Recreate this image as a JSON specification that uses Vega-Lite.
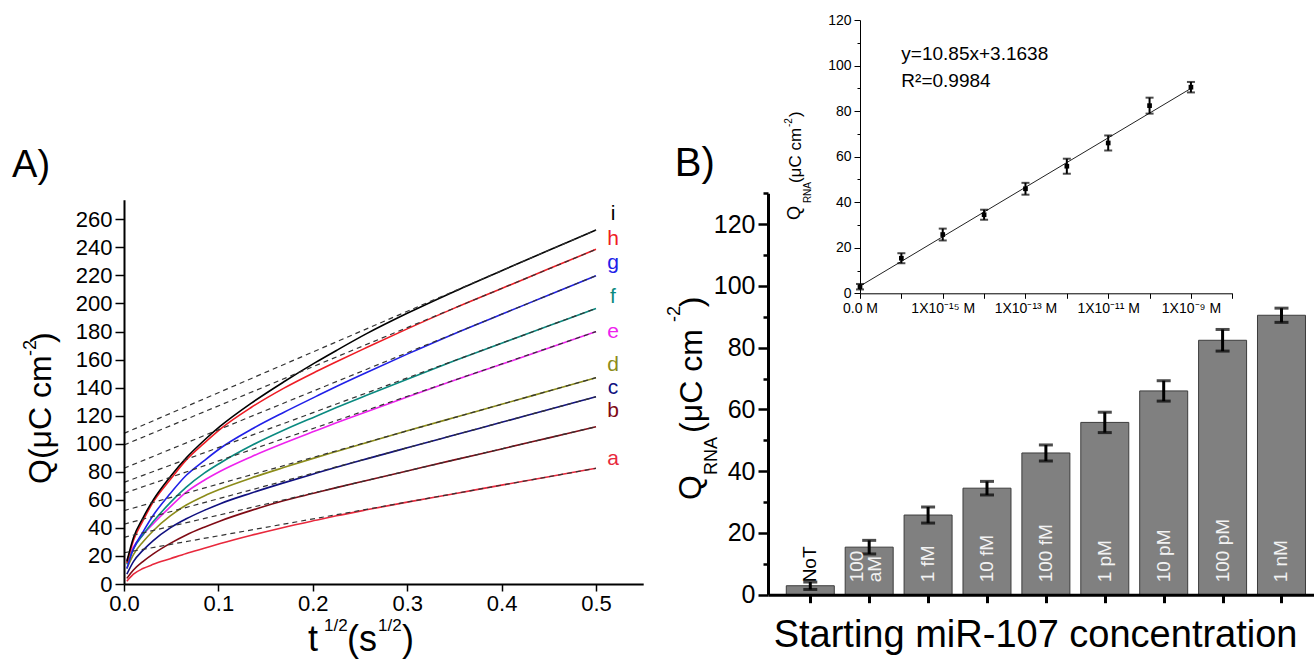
{
  "$schema": "https://vega.github.io/schema/vega-lite/v6.json",
  "width": 1314,
  "height": 671,
  "autosize": {"type": "none"},
  "padding": 0,
  "background": "white",
  "config": {
    "view": {"stroke": null},
    "font": "Liberation Sans",
    "axis": {"labelFont": "Liberation Sans", "labelColor": "black", "domainColor": "black", "tickColor": "black", "grid": false, "labelOverlap": false, "labelFlush": false},
    "text": {"font": "Liberation Sans", "color": "black"}
  },
  "datasets": {
    "curves": [
      {"series":"a","t":0.003,"q":2},{"series":"a","t":0.01,"q":7},{"series":"a","t":0.02,"q":11},{"series":"a","t":0.031,"q":14},{"series":"a","t":0.049,"q":18},{"series":"a","t":0.066,"q":21.8},{"series":"a","t":0.085,"q":25.5},{"series":"a","t":0.102,"q":28.8},{"series":"a","t":0.135,"q":34.7},{"series":"a","t":0.169,"q":40.3},{"series":"a","t":0.203,"q":45.4},{"series":"a","t":0.225,"q":48.6},{"series":"a","t":0.257,"q":52.9},{"series":"a","t":0.3,"q":58.4},{"series":"a","t":0.35,"q":64.4},{"series":"a","t":0.4,"q":70.5},{"series":"a","t":0.45,"q":76.5},{"series":"a","t":0.5,"q":82.5},
      {"series":"b","t":0.003,"q":4},{"series":"b","t":0.01,"q":10},{"series":"b","t":0.02,"q":16},{"series":"b","t":0.031,"q":21.5},{"series":"b","t":0.049,"q":29},{"series":"b","t":0.066,"q":35},{"series":"b","t":0.085,"q":40.5},{"series":"b","t":0.102,"q":45},{"series":"b","t":0.135,"q":52.5},{"series":"b","t":0.169,"q":59.3},{"series":"b","t":0.203,"q":65},{"series":"b","t":0.225,"q":68.7},{"series":"b","t":0.257,"q":73.8},{"series":"b","t":0.3,"q":80.6},{"series":"b","t":0.35,"q":88.5},{"series":"b","t":0.4,"q":96.3},{"series":"b","t":0.45,"q":104.2},{"series":"b","t":0.5,"q":112.1},
      {"series":"c","t":0.003,"q":7},{"series":"c","t":0.01,"q":16},{"series":"c","t":0.02,"q":24},{"series":"c","t":0.031,"q":31},{"series":"c","t":0.049,"q":40},{"series":"c","t":0.066,"q":46.5},{"series":"c","t":0.085,"q":52.5},{"series":"c","t":0.102,"q":57.3},{"series":"c","t":0.135,"q":64.9},{"series":"c","t":0.169,"q":72.1},{"series":"c","t":0.203,"q":78.9},{"series":"c","t":0.225,"q":83.2},{"series":"c","t":0.257,"q":89.2},{"series":"c","t":0.3,"q":97.1},{"series":"c","t":0.35,"q":106.2},{"series":"c","t":0.4,"q":115.3},{"series":"c","t":0.45,"q":124.4},{"series":"c","t":0.5,"q":133.5},
      {"series":"d","t":0.003,"q":11},{"series":"d","t":0.01,"q":21},{"series":"d","t":0.02,"q":30},{"series":"d","t":0.031,"q":38},{"series":"d","t":0.049,"q":48.5},{"series":"d","t":0.066,"q":56.3},{"series":"d","t":0.085,"q":62.8},{"series":"d","t":0.102,"q":67.6},{"series":"d","t":0.135,"q":75.6},{"series":"d","t":0.169,"q":83.0},{"series":"d","t":0.203,"q":90.1},{"series":"d","t":0.225,"q":94.5},{"series":"d","t":0.257,"q":100.8},{"series":"d","t":0.3,"q":109.2},{"series":"d","t":0.35,"q":118.7},{"series":"d","t":0.4,"q":128.1},{"series":"d","t":0.45,"q":137.6},{"series":"d","t":0.5,"q":147.1},
      {"series":"e","t":0.003,"q":17},{"series":"e","t":0.01,"q":26.5},{"series":"e","t":0.02,"q":35},{"series":"e","t":0.031,"q":43},{"series":"e","t":0.049,"q":55},{"series":"e","t":0.066,"q":65.5},{"series":"e","t":0.085,"q":74.0},{"series":"e","t":0.102,"q":80.4},{"series":"e","t":0.135,"q":90.8},{"series":"e","t":0.169,"q":100.3},{"series":"e","t":0.203,"q":109.2},{"series":"e","t":0.225,"q":114.9},{"series":"e","t":0.257,"q":122.8},{"series":"e","t":0.3,"q":133.3},{"series":"e","t":0.35,"q":145.2},{"series":"e","t":0.4,"q":156.7},{"series":"e","t":0.45,"q":168.2},{"series":"e","t":0.5,"q":179.9},
      {"series":"f","t":0.003,"q":14},{"series":"f","t":0.01,"q":25},{"series":"f","t":0.02,"q":35},{"series":"f","t":0.031,"q":44.5},{"series":"f","t":0.049,"q":58},{"series":"f","t":0.066,"q":69},{"series":"f","t":0.085,"q":79},{"series":"f","t":0.102,"q":86.3},{"series":"f","t":0.135,"q":98.7},{"series":"f","t":0.169,"q":109.6},{"series":"f","t":0.203,"q":119.5},{"series":"f","t":0.225,"q":125.8},{"series":"f","t":0.257,"q":134.5},{"series":"f","t":0.3,"q":146.0},{"series":"f","t":0.35,"q":159.1},{"series":"f","t":0.4,"q":171.7},{"series":"f","t":0.45,"q":184.1},{"series":"f","t":0.5,"q":196.5},
      {"series":"g","t":0.003,"q":11},{"series":"g","t":0.01,"q":25},{"series":"g","t":0.02,"q":37},{"series":"g","t":0.031,"q":49},{"series":"g","t":0.049,"q":64.5},{"series":"g","t":0.066,"q":77.5},{"series":"g","t":0.085,"q":88},{"series":"g","t":0.102,"q":96.8},{"series":"g","t":0.135,"q":110.3},{"series":"g","t":0.169,"q":122.3},{"series":"g","t":0.203,"q":133.6},{"series":"g","t":0.225,"q":140.8},{"series":"g","t":0.257,"q":150.8},{"series":"g","t":0.3,"q":163.9},{"series":"g","t":0.35,"q":178.5},{"series":"g","t":0.4,"q":192.3},{"series":"g","t":0.45,"q":206.1},{"series":"g","t":0.5,"q":219.8},
      {"series":"h","t":0.003,"q":15},{"series":"h","t":0.01,"q":31},{"series":"h","t":0.02,"q":45},{"series":"h","t":0.031,"q":58.5},{"series":"h","t":0.049,"q":74.5},{"series":"h","t":0.066,"q":88.5},{"series":"h","t":0.085,"q":100.5},{"series":"h","t":0.102,"q":110.5},{"series":"h","t":0.135,"q":126},{"series":"h","t":0.169,"q":139.5},{"series":"h","t":0.203,"q":151.3},{"series":"h","t":0.225,"q":158.5},{"series":"h","t":0.257,"q":168.6},{"series":"h","t":0.3,"q":181.9},{"series":"h","t":0.35,"q":196.7},{"series":"h","t":0.4,"q":210.7},{"series":"h","t":0.45,"q":224.7},{"series":"h","t":0.5,"q":238.6},
      {"series":"i","t":0.003,"q":16},{"series":"i","t":0.01,"q":33},{"series":"i","t":0.02,"q":47},{"series":"i","t":0.031,"q":60},{"series":"i","t":0.049,"q":76.5},{"series":"i","t":0.066,"q":90},{"series":"i","t":0.085,"q":102.5},{"series":"i","t":0.102,"q":112.5},{"series":"i","t":0.135,"q":129},{"series":"i","t":0.169,"q":144},{"series":"i","t":0.203,"q":158},{"series":"i","t":0.225,"q":166.5},{"series":"i","t":0.257,"q":178.5},{"series":"i","t":0.3,"q":193},{"series":"i","t":0.35,"q":208.6},{"series":"i","t":0.4,"q":223.4},{"series":"i","t":0.45,"q":237.9},{"series":"i","t":0.5,"q":252.4}
    ],
    "fits": [
      {"series":"a","t":0,"q":22.3},{"series":"a","t":0.5,"q":82.5},
      {"series":"b","t":0,"q":33.3},{"series":"b","t":0.5,"q":112.1},
      {"series":"c","t":0,"q":42.6},{"series":"c","t":0.5,"q":133.5},
      {"series":"d","t":0,"q":52.3},{"series":"d","t":0.5,"q":147.1},
      {"series":"e","t":0,"q":64.7},{"series":"e","t":0.5,"q":179.9},
      {"series":"f","t":0,"q":72.5},{"series":"f","t":0.5,"q":196.5},
      {"series":"g","t":0,"q":82.5},{"series":"g","t":0.5,"q":219.8},
      {"series":"h","t":0,"q":99.1},{"series":"h","t":0.5,"q":238.6},
      {"series":"i","t":0,"q":107.4},{"series":"i","t":0.5,"q":252.4}
    ],
    "curvelabels": [
      {"series":"a","t":0.518,"q":84.8},
      {"series":"b","t":0.518,"q":119.1},
      {"series":"c","t":0.518,"q":135.8},
      {"series":"d","t":0.518,"q":151.6},
      {"series":"e","t":0.518,"q":175.4},
      {"series":"f","t":0.518,"q":200.3},
      {"series":"g","t":0.518,"q":224.6},
      {"series":"h","t":0.518,"q":241.7},
      {"series":"i","t":0.518,"q":259.5}
    ],
    "conc": [
      {"idx":0,"label":"NoT","q":2.9,"err":1.2},
      {"idx":1,"label":"100\naM","q":15.4,"err":2.2},
      {"idx":2,"label":"1 fM","q":25.8,"err":2.6},
      {"idx":3,"label":"10 fM","q":34.5,"err":2.2},
      {"idx":4,"label":"100 fM","q":45.9,"err":2.6},
      {"idx":5,"label":"1 pM","q":55.8,"err":3.3},
      {"idx":6,"label":"10 pM","q":66.0,"err":3.3},
      {"idx":7,"label":"100 pM","q":82.4,"err":3.5},
      {"idx":8,"label":"1 nM","q":90.5,"err":2.3}
    ],
    "regline": [{"idx":0,"q":3.16},{"idx":8,"q":89.96}]
  },
  "layer": [
    {
      "layer": [
        {
          "data": {"name": "curves"},
          "mark": {"type": "line", "strokeWidth": 1.6, "interpolate": "monotone"},
          "encoding": {
            "x": {"field": "t", "type": "quantitative", "scale": {"domain": [0, 0.55], "range": [124, 643.2], "nice": false, "zero": false},
                  "axis": {"orient": "bottom", "offset": -87, "values": [0, 0.1, 0.2, 0.3, 0.4, 0.5], "format": ".1f", "tickSize": 7, "tickWidth": 1.5, "domainWidth": 2, "labelPadding": 2, "labelFontSize": 22, "title": null, "zindex": 1}},
            "y": {"field": "q", "type": "quantitative", "scale": {"domain": [0, 274], "range": [584, 199.7], "nice": false, "zero": false},
                  "axis": {"orient": "left", "offset": -124, "values": [0,10,20,30,40,50,60,70,80,90,100,110,120,130,140,150,160,170,180,190,200,210,220,230,240,250,260,270], "labelExpr": "datum.value % 20 === 0 ? datum.label : ''", "tickSize": {"condition": {"test": "datum.value % 20 === 0", "value": 9}, "value": 5}, "tickWidth": 1.5, "domainWidth": 2, "labelPadding": 3, "labelFontSize": 22, "title": null, "zindex": 1}},
            "color": {"field": "series", "type": "nominal", "scale": {"domain": ["a","b","c","d","e","f","g","h","i"], "range": ["#e8283c","#7f0a14","#101080","#8c8c1a","#ee22ee","#0a8a80","#2020e8","#ee1c24","#000000"]}, "legend": null}
          }
        },
        {
          "data": {"name": "fits"},
          "mark": {"type": "line", "strokeDash": [5, 4], "strokeWidth": 1.2, "color": "#333333"},
          "encoding": {
            "x": {"field": "t", "type": "quantitative"},
            "y": {"field": "q", "type": "quantitative"},
            "detail": {"field": "series"}
          }
        },
        {
          "data": {"name": "curvelabels"},
          "mark": {"type": "text", "fontSize": 21, "align": "center", "baseline": "alphabetic"},
          "encoding": {
            "x": {"field": "t", "type": "quantitative"},
            "y": {"field": "q", "type": "quantitative"},
            "text": {"field": "series"},
            "color": {"field": "series", "type": "nominal", "legend": null}
          }
        },
        {"data": {"values": [{}]}, "mark": {"type": "text", "text": "A)", "fontSize": 38, "align": "left", "baseline": "alphabetic"}, "encoding": {"x": {"datum": -0.1186, "type": "quantitative"}, "y": {"datum": 290.2, "type": "quantitative"}}},
        {"data": {"values": [{}]}, "mark": {"type": "text", "text": "Q(μC cm", "fontSize": 32, "angle": 270, "align": "left", "baseline": "middle"}, "encoding": {"x": {"datum": -0.0879, "type": "quantitative"}, "y": {"datum": 71.3, "type": "quantitative"}}},
        {"data": {"values": [{}]}, "mark": {"type": "text", "text": "-2", "fontSize": 18, "angle": 270, "align": "left", "baseline": "middle"}, "encoding": {"x": {"datum": -0.0985, "type": "quantitative"}, "y": {"datum": 162.5, "type": "quantitative"}}},
        {"data": {"values": [{}]}, "mark": {"type": "text", "text": ")", "fontSize": 32, "angle": 270, "align": "left", "baseline": "middle"}, "encoding": {"x": {"datum": -0.0858, "type": "quantitative"}, "y": {"datum": 171.8, "type": "quantitative"}}},
        {"data": {"values": [{}]}, "mark": {"type": "text", "text": "t", "fontSize": 36, "align": "left", "baseline": "alphabetic"}, "encoding": {"x": {"datum": 0.1949, "type": "quantitative"}, "y": {"datum": -47.8, "type": "quantitative"}}},
        {"data": {"values": [{}]}, "mark": {"type": "text", "text": "1/2", "fontSize": 17, "align": "left", "baseline": "alphabetic"}, "encoding": {"x": {"datum": 0.2119, "type": "quantitative"}, "y": {"datum": -33.5, "type": "quantitative"}}},
        {"data": {"values": [{}]}, "mark": {"type": "text", "text": "(s", "fontSize": 36, "align": "left", "baseline": "alphabetic"}, "encoding": {"x": {"datum": 0.2362, "type": "quantitative"}, "y": {"datum": -47.8, "type": "quantitative"}}},
        {"data": {"values": [{}]}, "mark": {"type": "text", "text": "1/2", "fontSize": 17, "align": "left", "baseline": "alphabetic"}, "encoding": {"x": {"datum": 0.2691, "type": "quantitative"}, "y": {"datum": -33.5, "type": "quantitative"}}},
        {"data": {"values": [{}]}, "mark": {"type": "text", "text": ")", "fontSize": 36, "align": "left", "baseline": "alphabetic"}, "encoding": {"x": {"datum": 0.2945, "type": "quantitative"}, "y": {"datum": -47.8, "type": "quantitative"}}}
      ]
    },
    {
      "layer": [
        {
          "data": {"name": "conc"},
          "mark": {"type": "bar", "width": 48, "fill": "#808080", "stroke": "#3c3c3c", "strokeWidth": 1},
          "encoding": {
            "x": {"field": "idx", "type": "quantitative", "scale": {"domain": [-0.633, 8.467], "range": [768, 1314], "nice": false, "zero": false},
                  "axis": {"orient": "bottom", "offset": -76.3, "values": [0,1,2,3,4,5,6,7,8], "labels": false, "tickSize": 8, "tickWidth": 3, "domainWidth": 3, "title": null, "zindex": 1}},
            "y": {"field": "q", "type": "quantitative", "scale": {"domain": [0, 130], "range": [594.7, 193.3], "nice": false, "zero": false},
                  "axis": {"orient": "left", "offset": -768, "values": [0,10,20,30,40,50,60,70,80,90,100,110,120,130], "labelExpr": "datum.value % 20 === 0 ? datum.label : ''", "tickSize": {"condition": {"test": "datum.value % 20 === 0", "value": 10}, "value": 5}, "tickWidth": 2.5, "domainWidth": 3, "labelPadding": 3, "labelFontSize": 25, "title": null, "zindex": 1}},
            "y2": {"datum": 0}
          }
        },
        {
          "data": {"name": "conc"},
          "mark": {"type": "errorbar", "ticks": true, "size": 14, "thickness": 3, "color": "black"},
          "encoding": {
            "x": {"field": "idx", "type": "quantitative"},
            "y": {"field": "q", "type": "quantitative"},
            "yError": {"field": "err"}
          }
        },
        {
          "data": {"name": "conc"},
          "transform": [{"filter": "datum.idx !== 1"}],
          "mark": {"type": "text", "angle": 270, "align": "left", "baseline": "middle", "fontSize": 19},
          "encoding": {
            "x": {"field": "idx", "type": "quantitative"},
            "y": {"datum": 4, "type": "quantitative"},
            "text": {"field": "label"},
            "color": {"condition": {"test": "datum.idx === 0", "value": "black"}, "value": "#f2f2f2"}
          }
        },
        {
          "data": {"name": "conc"},
          "transform": [{"filter": "datum.idx === 1"}],
          "mark": {"type": "text", "angle": 270, "align": "left", "baseline": "middle", "fontSize": 19, "lineBreak": "\n", "lineHeight": 18, "dy": -12, "color": "#f2f2f2"},
          "encoding": {
            "x": {"field": "idx", "type": "quantitative"},
            "y": {"datum": 4, "type": "quantitative"},
            "text": {"field": "label"}
          }
        },
        {"data": {"values": [{}]}, "mark": {"type": "text", "text": "B)", "fontSize": 40, "align": "left", "baseline": "alphabetic"}, "encoding": {"x": {"datum": -2.3, "type": "quantitative"}, "y": {"datum": 135.5, "type": "quantitative"}}},
        {"data": {"values": [{}]}, "mark": {"type": "text", "text": "Q", "fontSize": 32, "angle": 270, "align": "left", "baseline": "middle"}, "encoding": {"x": {"datum": -2.017, "type": "quantitative"}, "y": {"datum": 30.7, "type": "quantitative"}}},
        {"data": {"values": [{}]}, "mark": {"type": "text", "text": "RNA", "fontSize": 18, "angle": 270, "align": "left", "baseline": "middle"}, "encoding": {"x": {"datum": -1.667, "type": "quantitative"}, "y": {"datum": 38.8, "type": "quantitative"}}},
        {"data": {"values": [{}]}, "mark": {"type": "text", "text": "(μC cm", "fontSize": 32, "angle": 270, "align": "left", "baseline": "middle"}, "encoding": {"x": {"datum": -2.0, "type": "quantitative"}, "y": {"datum": 52.4, "type": "quantitative"}}},
        {"data": {"values": [{}]}, "mark": {"type": "text", "text": "-2", "fontSize": 18, "angle": 270, "align": "left", "baseline": "middle"}, "encoding": {"x": {"datum": -2.3, "type": "quantitative"}, "y": {"datum": 88.3, "type": "quantitative"}}},
        {"data": {"values": [{}]}, "mark": {"type": "text", "text": ")", "fontSize": 32, "angle": 270, "align": "left", "baseline": "middle"}, "encoding": {"x": {"datum": -2.0, "type": "quantitative"}, "y": {"datum": 93.1, "type": "quantitative"}}},
        {"data": {"values": [{}]}, "mark": {"type": "text", "text": "Starting miR-107 concentration", "fontSize": 38, "align": "center", "baseline": "alphabetic"}, "encoding": {"x": {"datum": 3.825, "type": "quantitative"}, "y": {"datum": -16.9, "type": "quantitative"}}}
      ]
    },
    {
      "layer": [
        {
          "data": {"name": "regline"},
          "mark": {"type": "line", "strokeWidth": 1, "color": "#222222"},
          "encoding": {
            "x": {"field": "idx", "type": "quantitative", "scale": {"domain": [0, 9], "range": [860, 1232.3], "nice": false, "zero": false},
                  "axis": {"orient": "bottom", "offset": -377.7, "values": [0,1,2,3,4,5,6,7,8,9], "labelExpr": "datum.value === 0 ? '0.0 M' : datum.value === 2 ? '1X10⁻¹⁵ M' : datum.value === 4 ? '1X10⁻¹³ M' : datum.value === 6 ? '1X10⁻¹¹ M' : datum.value === 8 ? '1X10⁻⁹ M' : ''", "tickSize": 5, "tickWidth": 1, "domainWidth": 1, "labelPadding": 3, "labelFontSize": 14, "title": null, "zindex": 1}},
            "y": {"field": "q", "type": "quantitative", "scale": {"domain": [0, 120], "range": [293.3, 20], "nice": false, "zero": false},
                  "axis": {"orient": "left", "offset": -860, "values": [0,10,20,30,40,50,60,70,80,90,100,110,120], "labelExpr": "datum.value % 20 === 0 ? datum.label : ''", "tickSize": {"condition": {"test": "datum.value % 20 === 0", "value": 6}, "value": 3}, "tickWidth": 1, "domainWidth": 1, "labelPadding": 3, "labelFontSize": 14, "title": null, "zindex": 1}}
          }
        },
        {
          "data": {"name": "conc"},
          "mark": {"type": "errorbar", "ticks": true, "size": 8, "thickness": 2, "color": "black"},
          "encoding": {
            "x": {"field": "idx", "type": "quantitative"},
            "y": {"field": "q", "type": "quantitative"},
            "yError": {"field": "err"}
          }
        },
        {
          "data": {"name": "conc"},
          "mark": {"type": "square", "size": 22, "filled": true, "color": "black", "opacity": 1},
          "encoding": {
            "x": {"field": "idx", "type": "quantitative"},
            "y": {"field": "q", "type": "quantitative"}
          }
        },
        {"data": {"values": [{}]}, "mark": {"type": "text", "text": "y=10.85x+3.1638", "fontSize": 19, "align": "left", "baseline": "alphabetic"}, "encoding": {"x": {"datum": 1.0, "type": "quantitative"}, "y": {"datum": 102.4, "type": "quantitative"}}},
        {"data": {"values": [{}]}, "mark": {"type": "text", "text": "R²=0.9984", "fontSize": 19, "align": "left", "baseline": "alphabetic"}, "encoding": {"x": {"datum": 1.0, "type": "quantitative"}, "y": {"datum": 90.7, "type": "quantitative"}}},
        {"data": {"values": [{}]}, "mark": {"type": "text", "text": "Q", "fontSize": 18, "angle": 270, "align": "left", "baseline": "middle"}, "encoding": {"x": {"datum": -1.57, "type": "quantitative"}, "y": {"datum": 32.2, "type": "quantitative"}}},
        {"data": {"values": [{}]}, "mark": {"type": "text", "text": "RNA", "fontSize": 10, "angle": 270, "align": "left", "baseline": "middle"}, "encoding": {"x": {"datum": -1.256, "type": "quantitative"}, "y": {"datum": 39.6, "type": "quantitative"}}},
        {"data": {"values": [{}]}, "mark": {"type": "text", "text": "(μC cm", "fontSize": 17, "angle": 270, "align": "left", "baseline": "middle"}, "encoding": {"x": {"datum": -1.546, "type": "quantitative"}, "y": {"datum": 48.4, "type": "quantitative"}}},
        {"data": {"values": [{}]}, "mark": {"type": "text", "text": "-2", "fontSize": 10, "angle": 270, "align": "left", "baseline": "middle"}, "encoding": {"x": {"datum": -1.715, "type": "quantitative"}, "y": {"datum": 73.0, "type": "quantitative"}}},
        {"data": {"values": [{}]}, "mark": {"type": "text", "text": ")", "fontSize": 17, "angle": 270, "align": "left", "baseline": "middle"}, "encoding": {"x": {"datum": -1.546, "type": "quantitative"}, "y": {"datum": 77.4, "type": "quantitative"}}}
      ]
    }
  ],
  "resolve": {"scale": {"x": "independent", "y": "independent"}, "axis": {"x": "independent", "y": "independent"}}
}
